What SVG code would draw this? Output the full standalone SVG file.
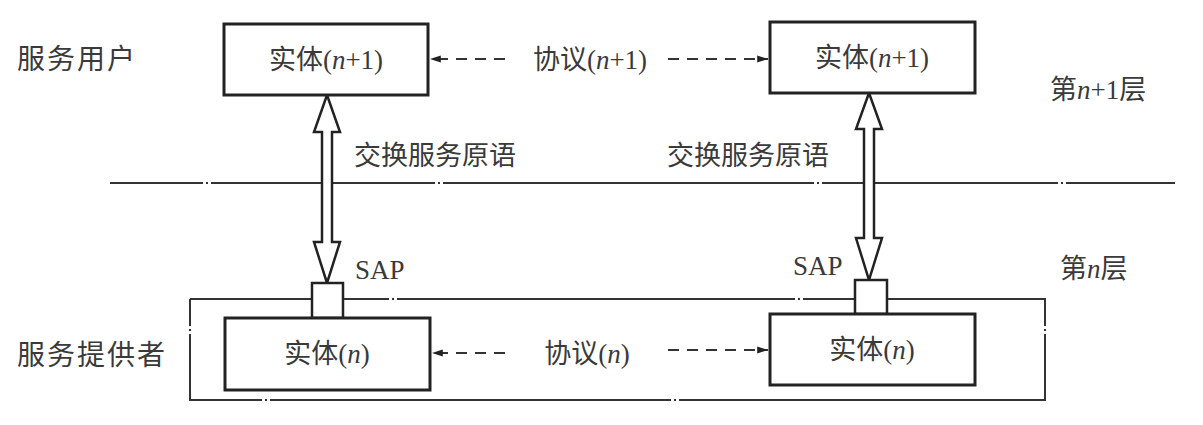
<svg xmlns="http://www.w3.org/2000/svg" width="1203" height="425" viewBox="0 0 1203 425">
<style>
.box{fill:#fff;stroke:#222;stroke-width:3}
.t{font-family:"Liberation Serif","Noto Sans CJK SC",serif;font-size:27px;fill:#3a3a3a}
.big{font-size:28px}
.dd{fill:none;stroke:#333;stroke-width:2}
.dot{fill:#333}
.dash{fill:none;stroke:#333;stroke-width:2;stroke-dasharray:11 8}
.dbl{fill:#fff;stroke:#222;stroke-width:2.5;stroke-linejoin:miter}
.sap{fill:#fff;stroke:#222;stroke-width:2.5}
</style>
<defs>
<marker id="ah" viewBox="0 0 12 10" refX="12" refY="5" markerWidth="12" markerHeight="9" markerUnits="userSpaceOnUse" orient="auto"><path d="M0,1 L12,5 L0,9 Z" fill="#222"/></marker>
</defs>
<rect width="1203" height="425" fill="#fff"/>
<g id="layer-lines">
<path class="dd" d="M110,183 H203 M211,183 H435 M443,183 H814 M822,183 H1058 M1066,183 H1175"/>
<rect class="dot" x="206" y="182" width="2" height="2"/><rect class="dot" x="438" y="182" width="2" height="2"/><rect class="dot" x="817" y="182" width="2" height="2"/><rect class="dot" x="1061" y="182" width="2" height="2"/>
<path class="dd" d="M190,299 H389 M397,299 H795 M803,299 H1045 V326 M1045,334 V400 H679 M671,400 H270 M262,400 H190 V334 M190,326 V299"/>
<rect class="dot" x="392" y="298" width="2" height="2"/><rect class="dot" x="798" y="298" width="2" height="2"/><rect class="dot" x="674" y="399" width="2" height="2"/><rect class="dot" x="265" y="399" width="2" height="2"/>
<rect class="dot" x="189" y="329" width="2" height="2"/><rect class="dot" x="1044" y="329" width="2" height="2"/>
</g>
<g id="connectors">
<line class="dash" x1="505" y1="59" x2="430" y2="59" marker-end="url(#ah)"/>
<line class="dash" x1="668" y1="59" x2="768" y2="59" marker-end="url(#ah)"/>
<line class="dash" x1="505" y1="353" x2="432" y2="353" marker-end="url(#ah)"/>
<line class="dash" x1="668" y1="350" x2="768" y2="350" marker-end="url(#ah)"/>
<path class="dbl" d="M327,95 L340,132 L332,132 L332,242 L340,242 L327,283 L314,242 L322,242 L322,132 L314,132 Z"/>
<path class="dbl" d="M869,93 L882,129 L874,129 L874,238 L882,238 L869,280 L856,238 L864,238 L864,129 L856,129 Z"/>
</g>
<g id="sap-left"><rect class="sap" x="312" y="283" width="31" height="35"/></g>
<g id="sap-right"><rect class="sap" x="855" y="280" width="32" height="34"/></g>
<g id="entity-n1-left"><rect class="box" x="224" y="24" width="204" height="71"/><text class="t" x="326" y="69" text-anchor="middle">实体(<tspan font-style="italic">n</tspan>+1)</text></g>
<g id="entity-n1-right"><rect class="box" x="770" y="22" width="205" height="71"/><text class="t" x="872" y="67" text-anchor="middle">实体(<tspan font-style="italic">n</tspan>+1)</text></g>
<g id="entity-n-left"><rect class="box" x="225" y="318" width="205" height="72"/><text class="t" x="327" y="363" text-anchor="middle">实体(<tspan font-style="italic">n</tspan>)</text></g>
<g id="entity-n-right"><rect class="box" x="770" y="314" width="205" height="71"/><text class="t" x="872" y="359" text-anchor="middle">实体(<tspan font-style="italic">n</tspan>)</text></g>
<g id="labels">
<text class="t big" x="17" y="69" textLength="118">服务用户</text>
<text class="t big" x="17" y="365" textLength="148">服务提供者</text>
<text class="t" x="590" y="69" text-anchor="middle">协议(<tspan font-style="italic">n</tspan>+1)</text>
<text class="t" x="587" y="363" text-anchor="middle">协议(<tspan font-style="italic">n</tspan>)</text>
<text class="t" x="354" y="165">交换服务原语</text>
<text class="t" x="667" y="165">交换服务原语</text>
<text class="t" x="355" y="279">SAP</text>
<text class="t" x="793" y="275">SAP</text>
<text class="t" x="1050" y="99">第<tspan font-style="italic">n</tspan>+1层</text>
<text class="t" x="1060" y="278">第<tspan font-style="italic">n</tspan>层</text>
</g>
</svg>
